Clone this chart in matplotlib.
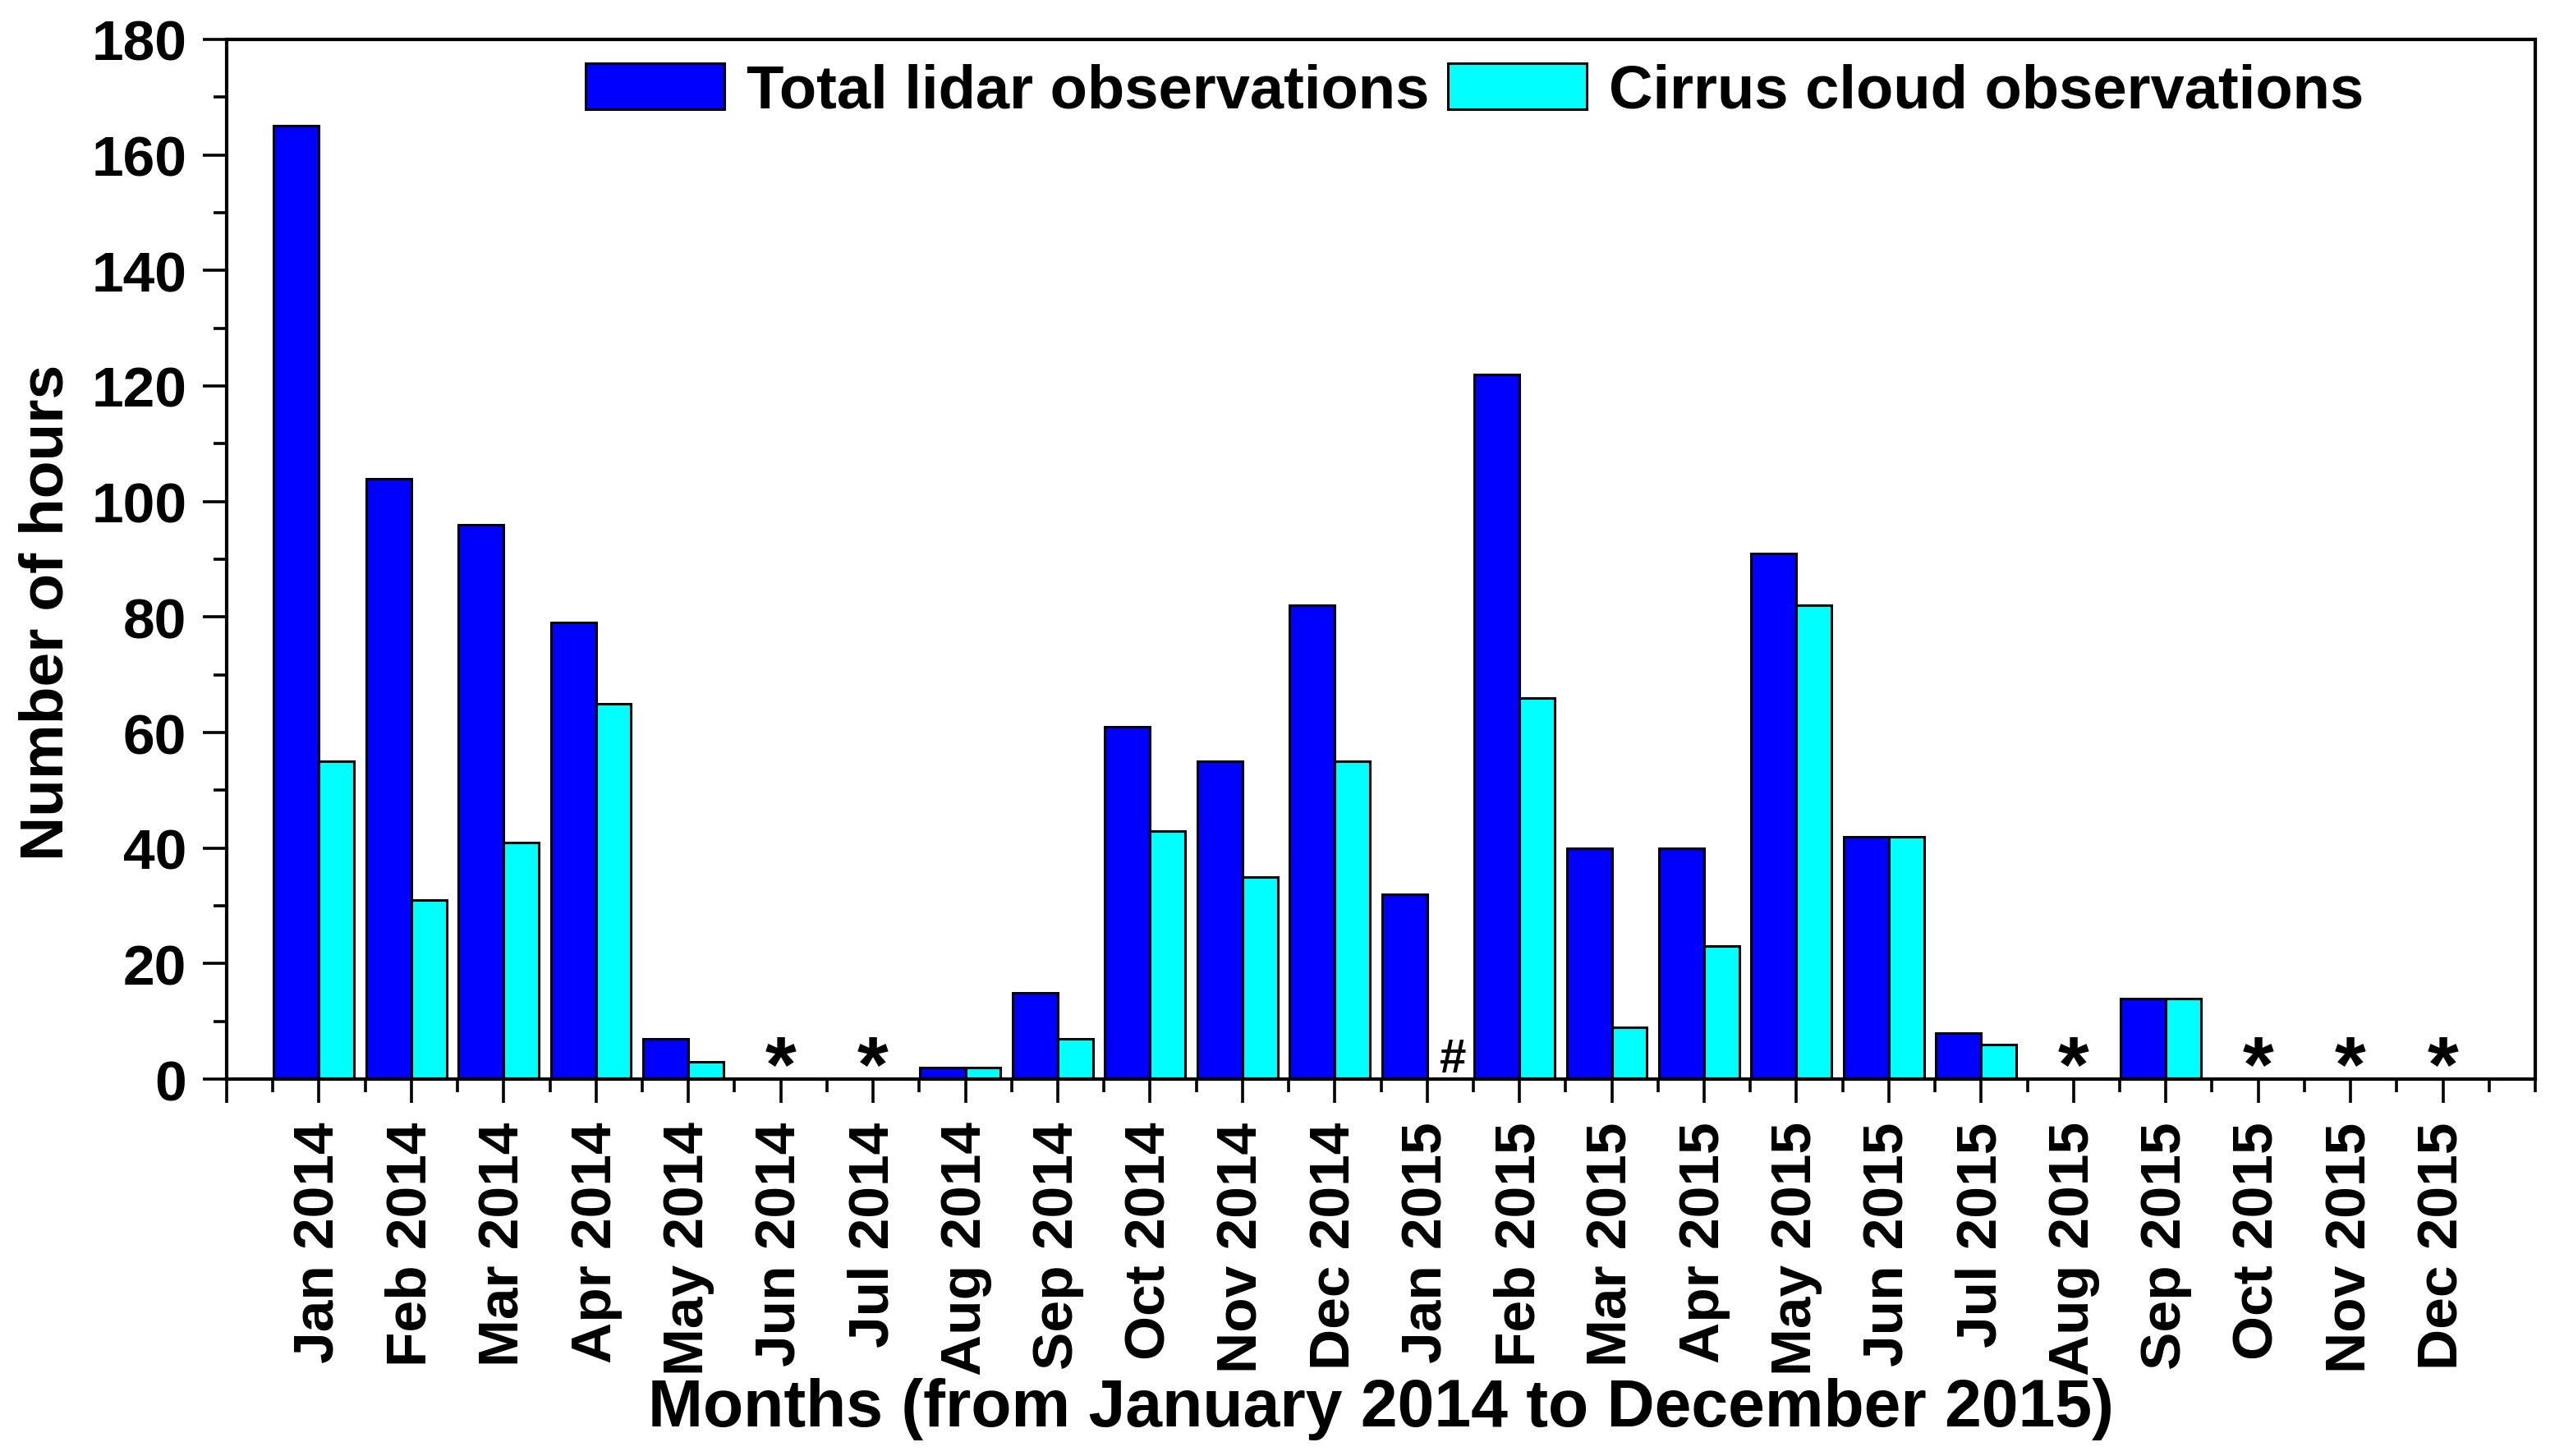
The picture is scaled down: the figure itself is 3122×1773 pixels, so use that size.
import numpy as np
import matplotlib
matplotlib.use('Agg')
import matplotlib.pyplot as plt
from matplotlib.ticker import MultipleLocator

plt.rcParams['font.family'] = ['Liberation Sans', 'DejaVu Sans']
plt.rcParams['font.weight'] = 'bold'

# Monthly lidar hours, Jan 2014 - Dec 2015
months = ['Jan 2014', 'Feb 2014', 'Mar 2014', 'Apr 2014', 'May 2014', 'Jun 2014',
          'Jul 2014', 'Aug 2014', 'Sep 2014', 'Oct 2014', 'Nov 2014', 'Dec 2014',
          'Jan 2015', 'Feb 2015', 'Mar 2015', 'Apr 2015', 'May 2015', 'Jun 2015',
          'Jul 2015', 'Aug 2015', 'Sep 2015', 'Oct 2015', 'Nov 2015', 'Dec 2015']
total_hours = [165, 104, 96, 79, 7, 0, 0, 2, 15, 61, 55, 82,
               32, 122, 40, 40, 91, 42, 8, 0, 14, 0, 0, 0]
cirrus_hours = [55, 31, 41, 65, 3, 0, 0, 2, 7, 43, 35, 55,
                0, 66, 9, 23, 82, 42, 6, 0, 14, 0, 0, 0]

# months with no observations (*) and no cirrus (#)
no_obs = ['Jun 2014', 'Jul 2014', 'Aug 2015', 'Oct 2015', 'Nov 2015', 'Dec 2015']
no_cirrus = ['Jan 2015']

x = np.arange(len(months))

fig = plt.figure(figsize=(31.22, 17.74), dpi=100)
ax = fig.add_axes([0.0884, 0.2587, 0.9004, 0.7137])

ax.bar(x, total_hours, width=-0.49, align='edge', color='#0000FF',
       edgecolor='black', linewidth=2.2, label='Total lidar observations')
ax.bar(x, cirrus_hours, width=0.38, align='edge', color='#00FFFF',
       edgecolor='black', linewidth=2.2, label='Cirrus cloud observations')

for m in no_obs:
    ax.text(months.index(m), 1.6, '*', ha='center', va='center',
            fontsize=70, fontweight='bold')
for m in no_cirrus:
    ax.text(months.index(m) + 0.28, 3.4, '#', ha='center', va='center',
            fontsize=42, fontweight='bold')

ax.set_xlim(-1, 24)
ax.set_ylim(0, 180)

ax.set_xticks(np.arange(-1, 24))
ax.set_xticklabels([''] + months, rotation=90)
ax.xaxis.set_minor_locator(MultipleLocator(0.5))
ax.yaxis.set_major_locator(MultipleLocator(20))
ax.yaxis.set_minor_locator(MultipleLocator(10))

ax.tick_params(which='major', direction='out', length=21, width=2.6,
               labelsize=50, pad=14)
ax.tick_params(which='minor', direction='out', length=11.5, width=2.6)
ax.tick_params(axis='x', which='major', pad=16)
for s in ax.spines.values():
    s.set_linewidth(3)

ax.set_xlabel('Months (from January 2014 to December 2015)', fontsize=58,
              fontweight='bold', va='center')
ax.xaxis.set_label_coords(0.5, -0.317)
ax.set_ylabel('Number of hours', fontsize=54, fontweight='bold', va='center')
ax.yaxis.set_label_coords(-0.078, 0.45)

ax.legend(loc='center left', bbox_to_anchor=(0.1555, 0.950), ncol=2,
          frameon=False, fontsize=53.5, borderpad=0, borderaxespad=0,
          handlelength=2.27, handleheight=0.78, handletextpad=0.37,
          columnspacing=0.3)

fig.savefig('out.png', dpi=100)
